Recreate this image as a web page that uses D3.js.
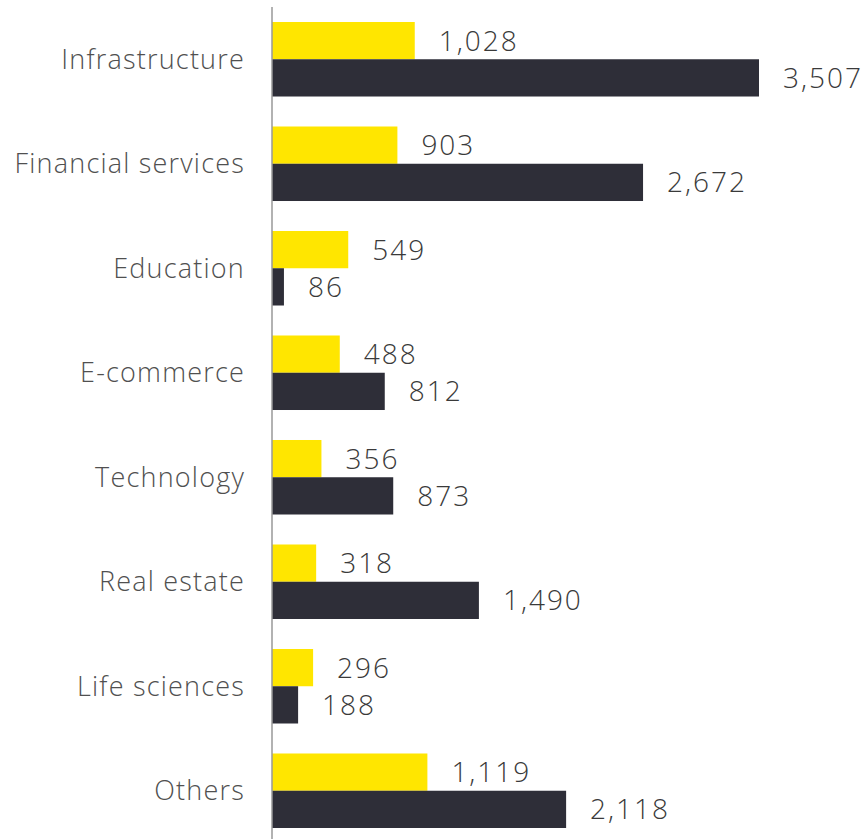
<!DOCTYPE html>
<html>
<head>
<meta charset="utf-8">
<script src="https://d3js.org/d3.v7.min.js"></script>
<style>
  body { margin: 0; background: #fff; }
  text { font-family: "Open Sans", "Noto Sans", sans-serif; font-weight: 350; }
</style>
</head>
<body>
<div id="chart"></div>
<script>
// categories top to bottom
var categories = ["Infrastructure", "Financial services", "Education", "E-commerce",
                  "Technology", "Real estate", "Life sciences", "Others"];
// yellow series (upper bar in each group)
var seriesA = [1028, 903, 549, 488, 356, 318, 296, 1119];
// dark series (lower bar in each group)
var seriesB = [3507, 2672, 86, 812, 873, 1490, 188, 2118];

var W = 868, H = 839;
var svg = d3.select("#chart").append("svg").attr("width", W).attr("height", H);

var y = d3.scaleBand().domain(categories).range([22, 828]).paddingInner(0.287).paddingOuter(0);
var x = d3.scaleLinear().domain([0, 3507]).range([272, 759]);
var sub = d3.scaleBand().domain(["a", "b"]).range([0, y.bandwidth()]);

var fmt = d3.format(",");
var rows = categories.map(function(c, i) { return { cat: c, a: seriesA[i], b: seriesB[i] }; });

var g = svg.selectAll("g.grp").data(rows).enter().append("g")
    .attr("class", "grp")
    .attr("transform", function(d) { return "translate(0," + y(d.cat) + ")"; });

var series = [{ key: "a", color: "#FFE600" }, { key: "b", color: "#2E2E38" }];

series.forEach(function(s) {
  g.append("rect")
    .attr("x", x(0))
    .attr("y", sub(s.key))
    .attr("width", function(d) { return x(d[s.key]) - x(0); })
    .attr("height", sub.bandwidth())
    .attr("fill", s.color);

  g.append("text")
    .attr("x", function(d) { return x(d[s.key]) + 24; })
    .attr("y", sub(s.key) + sub.bandwidth() / 2)
    .attr("dy", "0.36em")
    .attr("font-size", 28)
    .attr("letter-spacing", 2)
    .attr("fill", "#3a3a3a")
    .text(function(d) { return fmt(d[s.key]); });
});

// category labels
g.append("text")
  .attr("x", 245)
  .attr("y", y.bandwidth() / 2)
  .attr("dy", "0.36em")
  .attr("text-anchor", "end")
  .attr("font-size", 27)
  .attr("letter-spacing", 1.2)
  .attr("fill", "#505050")
  .text(function(d) { return d.cat; });

// vertical axis line
svg.append("line")
  .attr("x1", x(0)).attr("x2", x(0))
  .attr("y1", 7).attr("y2", H)
  .attr("stroke", "#999").attr("stroke-width", 1.5);
</script>
</body>
</html>
